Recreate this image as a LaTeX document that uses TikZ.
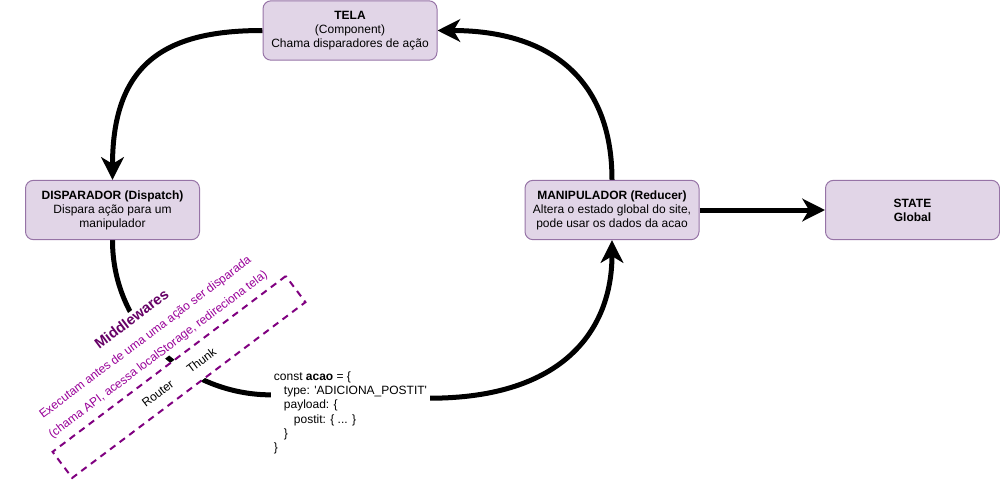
\documentclass[tikz,border=0pt]{standalone}
\usepackage{fontspec}
\setmainfont{Liberation Sans}
\usetikzlibrary{arrows.meta,backgrounds}
\definecolor{boxfill}{HTML}{E1D5E7}
\definecolor{boxline}{HTML}{9673A6}
\definecolor{mwdark}{HTML}{660066}
\definecolor{mwtext}{HTML}{990099}
\definecolor{mwdash}{HTML}{800080}
\tikzset{
  block/.style={draw=boxline, fill=boxfill, line width=0.75pt, rounded corners=6pt,
    minimum width=130.5pt, minimum height=44.5pt, align=center, inner sep=0pt,
    font=\fontsize{9}{10.5}\selectfont},
  flow/.style={line width=3.75pt, -{Stealth[length=17pt,width=17pt,inset=5pt]}},
  codetxt/.style={fill=white, align=left, inner sep=2pt, font=\fontsize{9}{10.6}\selectfont},
  mwlabel/.style={fill=white, text=mwtext, align=center, inner sep=1pt,
    font=\fontsize{9}{16}\selectfont},
  mwframe/.style={draw=mwdash, fill=white, line width=1.5pt, dash pattern=on 5pt off 4pt,
    minimum width=219pt, minimum height=24.5pt, inner sep=0pt, font=\fontsize{9}{10.5}\selectfont},
}

\begin{document}
\begin{tikzpicture}[x=0.75pt, y=-0.75pt]
   \useasboundingbox (0,0) rectangle (1000,486);
   % Caixas do fluxo
   \node[block] (tela) at (350,30.5) {\textbf{TELA}\\(Component)\\Chama disparadores de ação};
   \node[block] (disp) at (112.5,210) {\textbf{DISPARADOR (Dispatch)}\\Dispara ação para um\\manipulador};
   \node[block] (manip) at (612,210) {\textbf{MANIPULADOR (Reducer)}\\Altera o estado global do site,\\pode usar os dados da acao};
   \node[block] (state) at (912.5,210) {\textbf{STATE}\\\textbf{Global}};

   % Objeto da acao
   \node[codetxt, anchor=north west] (acao) at (271,369) {const \textbf{acao} = \{\\
      \hspace*{7.5pt}type: \textquotesingle ADICIONA\_POSTIT\textquotesingle\\
      \hspace*{7.5pt}payload: \{\\
      \hspace*{15pt}postit: \{ ... \}\\
      \hspace*{7.5pt}\}\\
      \}};

   % Middlewares
   \node[mwframe, rotate=37] (mwbox) at (179,377) {Router\hspace{15pt}Thunk};
   \node[mwlabel, rotate=37] (mw) at (145,337) {{\fontsize{11}{16}\selectfont\bfseries\color{mwdark}Middlewares}\\
      Executam antes de uma uma ação ser disparada\\
      (chama API, acessa localStorage, redireciona tela)};

   \begin{pgfonlayer}{background}
      \draw[flow] (tela.west) .. controls +(-93,0) and +(0,-120) .. (disp.north);
      \draw[flow] (manip.north) .. controls +(0,-100) and +(113,0) .. (tela.east);
      \draw[flow] (disp.south) .. controls +(0,90) and +(-83,0) .. ([yshift=13.5pt]acao.west)
         -- ([yshift=11pt]acao.east) .. controls +(133,0) and +(0,90) .. (manip.south);
      \draw[flow] (manip.east) -- (state.west);
   \end{pgfonlayer}
\end{tikzpicture}
\end{document}
